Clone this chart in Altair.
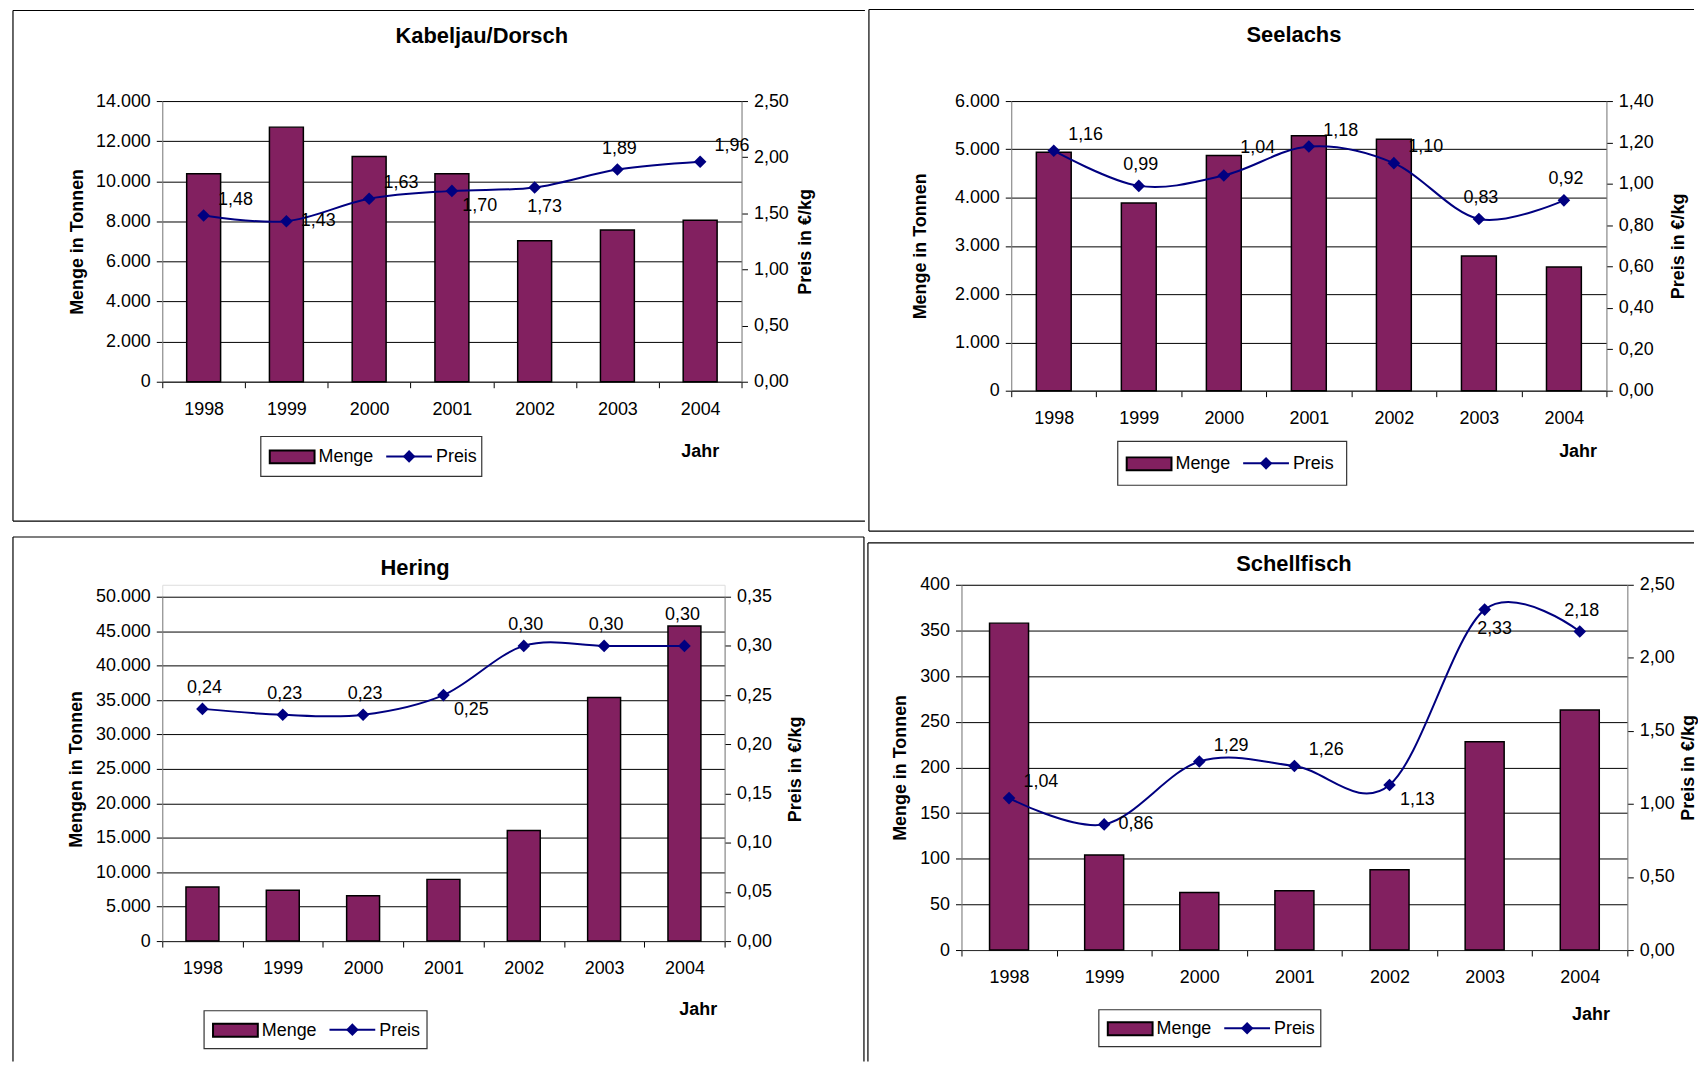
import altair as alt
import pandas as pd

years = ["1998", "1999", "2000", "2001", "2002", "2003", "2004"]

kabeljau_menge = [10380, 12700, 11240, 10380, 7030, 7570, 8050]
kabeljau_preis = [1.48, 1.43, 1.63, 1.70, 1.73, 1.89, 1.96]
kabeljau_lage = ["ro", "r", "ro", "ru", "u", "o", "ro"]

seelachs_menge = [4940, 3890, 4870, 5280, 5210, 2790, 2560]
seelachs_preis = [1.16, 0.99, 1.04, 1.18, 1.10, 0.83, 0.92]
seelachs_lage = ["ro", "o", "roo", "ro", "ro", "o", "o"]

hering_menge = [7860, 7390, 6600, 8960, 16040, 35380, 45760]
hering_preis = [0.236, 0.23, 0.23, 0.25, 0.30, 0.30, 0.30]
hering_lage = ["o", "o", "o", "ru", "o", "o", "oo"]

schell_menge = [358, 104, 63, 65, 88, 228, 263]
schell_preis = [1.04, 0.86, 1.29, 1.26, 1.13, 2.33, 2.18]
schell_lage = ["ro", "r", "ro", "ro", "ru", "u", "o"]

PURPLE = "#822060"
NAVY = "#000080"
FONT = "Liberation Sans"

# label placement codes -> (dx, dy)
LAGE = {"o": (2, -21), "oo": (-2, -31), "u": (10, 20), "ro": (32, -16), "roo": (34, -28),
        "ru": (28, 15), "r": (32, 0)}

panels = [
    dict(titel="Kabeljau/Dorsch", menge=kabeljau_menge, preis=kabeljau_preis, lage=kabeljau_lage,
         ytitel="Menge in Tonnen", ymax=14000, ystep=2000, pmax=2.5, pstep=0.5,
         w=582, h=282, top=0, frame=(-150, 706, -91, 422), edges="ltb", titel_pos=(321, -65),
         legend=(99, 55, 222, 40), jahr=(540, 70), ytp=9, ptp=8),
    dict(titel="Seelachs", menge=seelachs_menge, preis=seelachs_preis, lage=seelachs_lage,
         ytitel="Menge in Tonnen", ymax=6000, ystep=1000, pmax=1.4, pstep=0.2,
         w=598, h=291, top=0, frame=(-143, 686, -92, 432), edges="ltb", titel_pos=(284, -66),
         legend=(107, 51, 230, 44), jahr=(569, 61), ytp=25, ptp=16),
    dict(titel="Hering", menge=hering_menge, preis=hering_preis, lage=hering_lage,
         ytitel="Mengen in Tonnen", ymax=50000, ystep=5000, pmax=0.35, pstep=0.05,
         w=565, h=346, top=12, frame=(-150, 705, -48, 479), edges="ltr", titel_pos=(254, -17),
         legend=(42, 70, 224, 38), jahr=(538, 69), ytp=10, ptp=15),
    dict(titel="Schellfisch", menge=schell_menge, preis=schell_preis, lage=schell_lage,
         ytitel="Menge in Tonnen", ymax=400, ystep=50, pmax=2.5, pstep=0.5,
         w=669, h=367, top=0, frame=(-94, 736, -42, 479), edges="lt", titel_pos=(334, -21),
         legend=(138, 60, 223, 37), jahr=(632, 65), ytp=10, ptp=5),
]

one = pd.DataFrame({"k": [0]})


def rule(x1, x2, y1, y2, color="#000", width=1.2, opacity=1):
    return alt.Chart(one).mark_rule(color=color, strokeWidth=width, opacity=opacity).encode(
        x=alt.value(x1), x2=alt.value(x2), y=alt.value(y1), y2=alt.value(y2))


def panel(p):
    W, T = p["w"], p["top"]
    H = p["h"] + T
    df = pd.DataFrame({"Jahr": years, "Menge": p["menge"], "Preis": p["preis"], "Lage": p["lage"]})

    xenc = alt.X("Jahr:N", scale=alt.Scale(paddingInner=0, paddingOuter=0),
                 axis=alt.Axis(title="Jahr", labelAngle=0, tickBand="extent", tickSize=6, labelPadding=13,
                               domainColor="#333", tickColor="#000", labelFontSize=18, labelColor="#000",
                               titleFontSize=18, titleFontWeight="bold", titleColor="#000",
                               titleX=p["jahr"][0], titleY=p["jahr"][1], titleAlign="center",
                               titleBaseline="middle", grid=False, labelFont=FONT, titleFont=FONT))

    nY = int(round(p["ymax"] / p["ystep"]))
    yvals = [p["ystep"] * i for i in range(nY + 1)]
    nP = int(round(p["pmax"] / p["pstep"]))
    pvals = [round(p["pstep"] * i, 4) for i in range(nP + 1)]

    ym = alt.Y("Menge:Q", scale=alt.Scale(domain=[0, p["ymax"]], nice=False, range=[H, T]),
               axis=alt.Axis(title=p["ytitel"], values=yvals,
                             labelExpr="replace(format(datum.value, ',.0f'), ',', '.')",
                             grid=True, gridColor="#000", gridWidth=1, domainColor="#808080",
                             tickColor="#000", tickSize=6, labelPadding=6, titlePadding=p["ytp"],
                             labelFontSize=18, labelColor="#000", titleFontSize=18,
                             titleFontWeight="bold", titleColor="#000", labelFont=FONT, titleFont=FONT))

    yp = alt.Y("Preis:Q", scale=alt.Scale(domain=[0, p["pmax"]], nice=False, range=[H, T]),
               axis=alt.Axis(orient="right", title="Preis in €/kg", values=pvals,
                             labelExpr="replace(format(datum.value, '.2f'), '.', ',')",
                             grid=False, domainColor="#808080", tickColor="#000", tickSize=6,
                             labelPadding=6, titlePadding=p["ptp"], titleAngle=270, titleBaseline="top",
                             labelFontSize=18, labelColor="#000", titleFontSize=18,
                             titleFontWeight="bold", titleColor="#000", labelFont=FONT, titleFont=FONT))

    bars = alt.Chart(df).mark_bar(width=alt.RelativeBandSize(0.41), fill=PURPLE, stroke="#000",
                                  strokeWidth=1.5).encode(x=xenc, y=ym)

    line = alt.Chart(df).mark_line(color=NAVY, strokeWidth=2, interpolate="cardinal", tension=0).encode(
        x=xenc, y=yp)
    pts = alt.Chart(df).mark_point(shape="diamond", filled=True, color=NAVY, size=160, opacity=1).encode(
        x=xenc, y=yp)
    labels = []
    for code, (dx, dy) in LAGE.items():
        labels.append(
            alt.Chart(df).transform_filter(alt.datum.Lage == code)
            .transform_calculate(lab="replace(format(datum.Preis, '.2f'), '.', ',')")
            .mark_text(dx=dx, dy=dy, fontSize=18, align="center", baseline="middle", color="#000", font=FONT)
            .encode(x=xenc, y=yp, text="lab:N"))
    price = alt.layer(line, pts, *labels)

    # frame of the panel
    fl, fr, ft, fb = p["frame"]
    deco = []
    if "t" in p["edges"]:
        deco.append(rule(fl, fr, ft, ft))
    if "b" in p["edges"]:
        deco.append(rule(fl, fr, fb, fb))
    if "l" in p["edges"]:
        deco.append(rule(fl, fl, ft, fb))
    if "r" in p["edges"]:
        deco.append(rule(fr, fr, ft, fb))

    # title
    tx, ty = p["titel_pos"]
    deco.append(alt.Chart(one).mark_text(fontSize=22, fontWeight="bold", align="center", baseline="middle",
                                         color="#000", font=FONT).encode(
        x=alt.value(tx), y=alt.value(ty), text=alt.value(p["titel"])))

    # legend
    bx, by, bw, bh = p["legend"]
    by = H + by
    cy = by + bh / 2
    deco.append(alt.Chart(one).mark_rect(fill="white", stroke="#333", strokeWidth=1.2).encode(
        x=alt.value(bx), x2=alt.value(bx + bw), y=alt.value(by), y2=alt.value(by + bh)))
    deco.append(alt.Chart(one).mark_rect(fill=PURPLE, stroke="#000", strokeWidth=2).encode(
        x=alt.value(bx + 9), x2=alt.value(bx + 54), y=alt.value(cy - 6), y2=alt.value(cy + 7)))
    deco.append(alt.Chart(one).mark_text(fontSize=18, align="left", baseline="middle", color="#000",
                                         font=FONT).encode(
        x=alt.value(bx + 58), y=alt.value(cy + 1), text=alt.value("Menge")))
    deco.append(alt.Chart(one).mark_rule(color=NAVY, strokeWidth=2).encode(
        x=alt.value(bx + 126), x2=alt.value(bx + 172), y=alt.value(cy)))
    deco.append(alt.Chart(one).mark_point(shape="diamond", filled=True, color=NAVY, size=160, opacity=1).encode(
        x=alt.value(bx + 149), y=alt.value(cy)))
    deco.append(alt.Chart(one).mark_text(fontSize=18, align="left", baseline="middle", color="#000",
                                         font=FONT).encode(
        x=alt.value(bx + 176), y=alt.value(cy + 1), text=alt.value("Preis")))

    return alt.layer(bars, price, *deco).resolve_scale(y="independent").properties(width=W, height=H)


p1, p2, p3, p4 = [panel(p) for p in panels]
row1 = alt.hconcat(p1, p2, spacing=0)
row2 = alt.hconcat(p3, p4, spacing=0)
chart = (alt.vconcat(row1, row2, spacing=2)
         .properties(padding={"left": 3, "top": -3, "right": 0, "bottom": 0})
         .configure_view(stroke="transparent")
         .configure(font=FONT))

chart.save("out.html", embed_options={"renderer": "svg", "actions": False})
